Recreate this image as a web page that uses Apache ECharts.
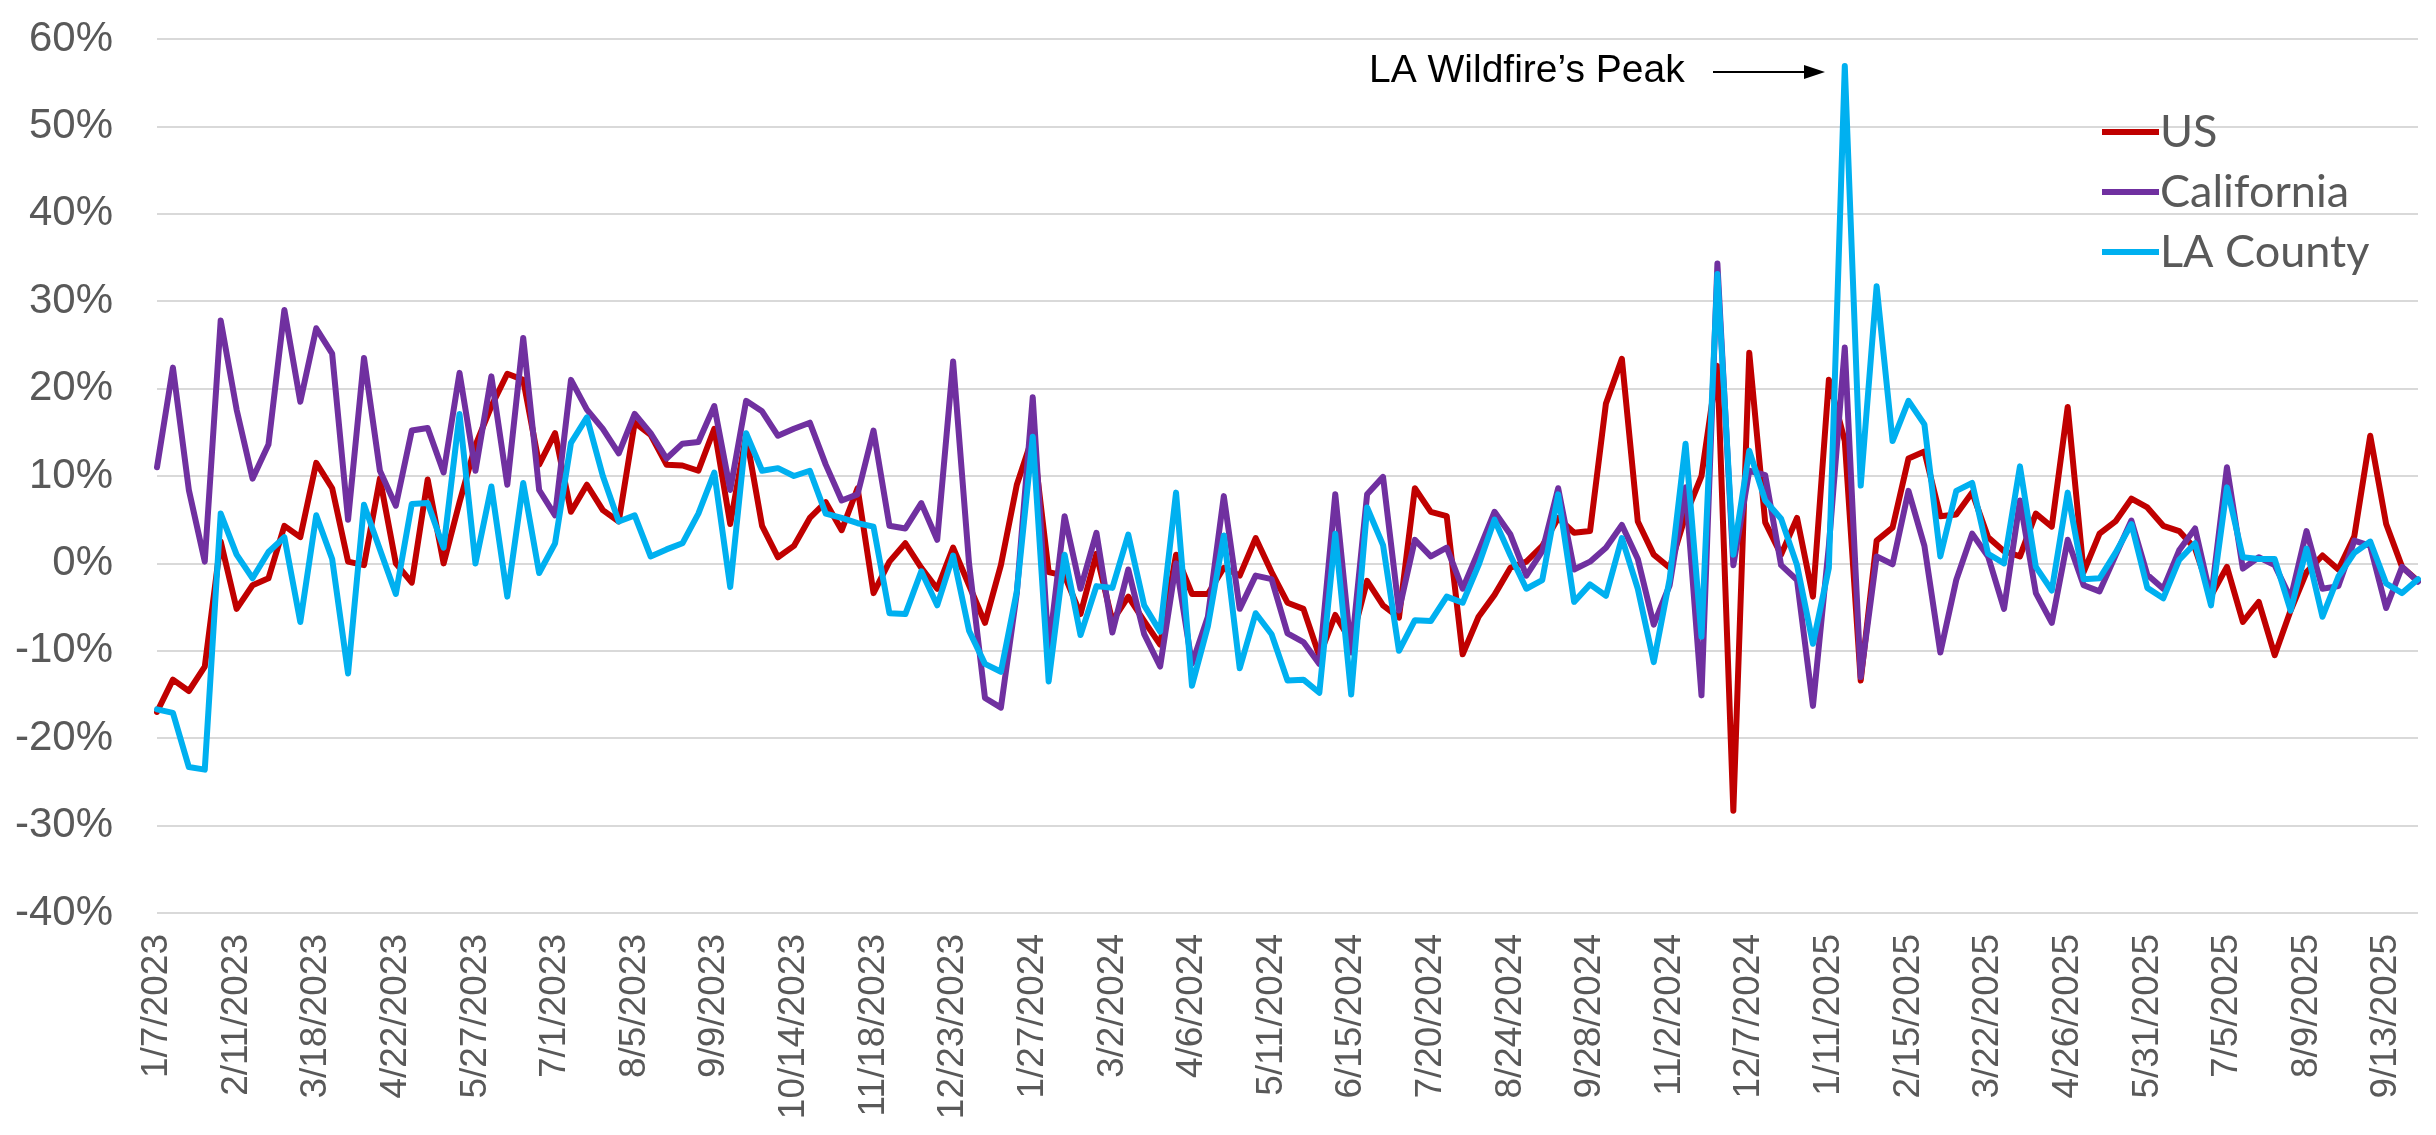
<!DOCTYPE html>
<html>
<head>
<meta charset="utf-8">
<script src="https://cdn.jsdelivr.net/npm/echarts@6/dist/echarts.min.js"></script>
<style>
html,body{margin:0;padding:0;background:#fff;}
#chart{width:2436px;height:1135px;}
</style>
</head>
<body>
<div id="chart"></div>
<script>
// Weekly categories (week ending dates)
const categories = [
"1/7/2023","1/14/2023","1/21/2023","1/28/2023","2/4/2023","2/11/2023","2/18/2023","2/25/2023","3/4/2023","3/11/2023",
"3/18/2023","3/25/2023","4/1/2023","4/8/2023","4/15/2023","4/22/2023","4/29/2023","5/6/2023","5/13/2023","5/20/2023",
"5/27/2023","6/3/2023","6/10/2023","6/17/2023","6/24/2023","7/1/2023","7/8/2023","7/15/2023","7/22/2023","7/29/2023",
"8/5/2023","8/12/2023","8/19/2023","8/26/2023","9/2/2023","9/9/2023","9/16/2023","9/23/2023","9/30/2023","10/7/2023",
"10/14/2023","10/21/2023","10/28/2023","11/4/2023","11/11/2023","11/18/2023","11/25/2023","12/2/2023","12/9/2023","12/16/2023",
"12/23/2023","12/30/2023",
"1/6/2024","1/13/2024","1/20/2024","1/27/2024","2/3/2024","2/10/2024","2/17/2024","2/24/2024","3/2/2024","3/9/2024",
"3/16/2024","3/23/2024","3/30/2024","4/6/2024","4/13/2024","4/20/2024","4/27/2024","5/4/2024","5/11/2024","5/18/2024",
"5/25/2024","6/1/2024","6/8/2024","6/15/2024","6/22/2024","6/29/2024","7/6/2024","7/13/2024","7/20/2024","7/27/2024",
"8/3/2024","8/10/2024","8/17/2024","8/24/2024","8/31/2024","9/7/2024","9/14/2024","9/21/2024","9/28/2024","10/5/2024",
"10/12/2024","10/19/2024","10/26/2024","11/2/2024","11/9/2024","11/16/2024","11/23/2024","11/30/2024","12/7/2024","12/14/2024",
"12/21/2024","12/28/2024",
"1/4/2025","1/11/2025","1/18/2025","1/25/2025","2/1/2025","2/8/2025","2/15/2025","2/22/2025","3/1/2025","3/8/2025",
"3/15/2025","3/22/2025","3/29/2025","4/5/2025","4/12/2025","4/19/2025","4/26/2025","5/3/2025","5/10/2025","5/17/2025",
"5/24/2025","5/31/2025","6/7/2025","6/14/2025","6/21/2025","6/28/2025","7/5/2025","7/12/2025","7/19/2025","7/26/2025",
"8/2/2025","8/9/2025","8/16/2025","8/23/2025","8/30/2025","9/6/2025","9/13/2025","9/20/2025","9/27/2025"
];

// Year-over-year change, percent
const usValues = [
-17,-13.3,-14.6,-11.8,2.5,-5.2,-2.5,-1.7,4.3,3.0,
11.5,8.6,0.2,-0.2,9.7,0,-2.2,9.6,0,7,
13.5,18,21.7,21.0,11.3,14.9,5.9,9.0,6.1,4.8,
16.1,14.7,11.3,11.2,10.6,15.4,4.5,14.7,4.3,0.7,
2.0,5.2,7.0,3.8,8.6,-3.4,0.2,2.3,-0.5,-2.9,
1.8,-2.5,-6.8,-0.2,9.0,14.5,-1.0,-1.4,-5.8,1.1,
-6.6,-3.8,-6.6,-9.3,1.0,-3.5,-3.5,-0.5,-1.4,2.9,
-1.0,-4.5,-5.2,-10.6,-5.9,-9,-2.0,-4.8,-6.2,8.6,
5.9,5.4,-10.4,-6.1,-3.6,-0.5,0.2,2.0,5.2,3.5,
3.7,18.3,23.4,4.8,1.0,-0.5,5.5,10,22.6,-28.3,
24.1,4.7,1.0,5.2,-3.8,21.0,14,-13.4,2.6,4.1,
12.0,12.8,5.4,5.6,8.1,3.0,1.4,0.8,5.7,4.2,
17.9,-1.0,3.4,4.8,7.4,6.4,4.3,3.7,1.7,-3.7,
-0.4,-6.7,-4.4,-10.5,-5.4,-1.0,0.9,-0.7,3.1,14.6,
4.5,-0.4,-2
];

const caValues = [
11,22.4,8.4,0.2,27.8,17.6,9.7,13.6,29.0,18.5,
26.9,24.0,5.0,23.5,10.6,6.6,15.2,15.5,10.4,21.8,
10.6,21.4,9.0,25.8,8.4,5.5,21.0,17.6,15.4,12.6,
17.1,14.9,12.0,13.7,13.9,18.0,8.4,18.6,17.4,14.6,
15.4,16.1,11.3,7.2,7.9,15.2,4.3,4.0,6.9,2.7,
23.1,0,-15.4,-16.5,-3.4,19.0,-10.0,5.4,-2.9,3.5,
-7.9,-0.7,-8.1,-11.8,0,-11.5,-6.1,7.7,-5.2,-1.4,
-1.8,-8,-9.0,-11.5,7.9,-10.2,7.9,9.9,-5.4,2.7,
0.8,1.8,-2.9,1.4,5.9,3.3,-1.4,1.4,8.6,-0.7,
0.2,1.8,4.4,0.5,-7.0,-2.5,8.7,-15.1,34.3,-0.2,
10.6,10.1,-0.2,-1.9,-16.3,2,24.7,-13.0,0.8,-0.1,
8.3,2.0,-10.2,-1.9,3.4,0.8,-5.2,7.2,-3.4,-6.8,
2.7,-2.5,-3.2,0.9,4.9,-1.3,-2.9,1.5,4.0,-4.0,
11.0,-0.6,0.7,-0.2,-4.0,3.7,-2.9,-2.6,2.6,2.0,
-5.1,-0.4,-2.1
];

const laValues = [
-16.7,-17.1,-23.3,-23.6,5.7,1.0,-1.7,1.3,3.0,-6.7,
5.5,0.5,-12.6,6.7,1.6,-3.5,6.8,6.9,1.8,17.1,
0,8.8,-3.8,9.2,-1.1,2.3,13.8,16.7,10.0,4.8,
5.5,0.8,1.6,2.3,5.7,10.4,-2.7,14.9,10.6,10.9,
10.0,10.6,5.7,5.2,4.6,4.2,-5.7,-5.8,-0.9,-4.8,
0.9,-7.7,-11.5,-12.4,-3.2,14.5,-13.5,1.0,-8.2,-2.6,
-2.8,3.3,-4.8,-7.8,8.1,-14.0,-7.2,3.2,-12.0,-5.7,
-8.1,-13.4,-13.3,-14.8,3.4,-15.0,6.4,2.1,-10.0,-6.5,
-6.6,-3.8,-4.5,-0.2,5.0,0.9,-2.9,-1.9,7.9,-4.4,
-2.4,-3.7,2.9,-2.9,-11.3,-1.8,13.7,-8.4,33.1,1.0,
12.9,7.2,5.1,-0.2,-9.2,-0.5,56.9,8.9,31.7,14.0,
18.6,15.9,0.8,8.3,9.2,1.1,0,11.1,-0.4,-3.1,
8.1,-1.8,-1.7,1.2,4.5,-2.8,-4.0,0.4,2.3,-4.8,
8.7,0.7,0.5,0.5,-5.4,1.7,-6.1,-1.5,1.2,2.5,
-2.3,-3.4,-1.8
];

const seriesNames = ["US", "California", "LA County"];
const seriesColors = ["#C00000", "#7030A0", "#00B0F0"];
const yTicks = { min: -40, max: 60, step: 10 };
const annotationText = "LA Wildfire\u2019s Peak";

const SANS = "'Liberation Sans',Arial,sans-serif";

const chart = echarts.init(document.getElementById('chart'), null, {renderer: 'canvas'});
const allValues = [usValues, caValues, laValues];

chart.setOption({
  animation: false,
  backgroundColor: '#ffffff',
  grid: { left: 157, right: 18, top: 39, bottom: 1135 - 913, containLabel: false, outerBoundsMode: 'none' },
  legend: {
    orient: 'vertical',
    left: 2097,
    top: 102,
    icon: 'rect',
    itemWidth: 57,
    itemHeight: 6,
    itemGap: 10,
    itemStyle: { borderWidth: 0 },
    textStyle: { fontFamily: "Lato,'Open Sans',sans-serif", fontSize: 45, color: '#595959', lineHeight: 50, padding: [0,0,0,-4] },
    data: seriesNames
  },
  xAxis: {
    type: 'category',
    data: categories,
    boundaryGap: false,
    axisLine: { show: false },
    axisTick: { show: false },
    splitLine: { show: false },
    axisLabel: {
      interval: 4,
      rotate: 90,
      margin: 21,
      fontFamily: SANS,
      fontSize: 37,
      color: '#595959',
      padding: [28, 0, 0, 0]
    }
  },
  yAxis: {
    type: 'value',
    min: yTicks.min,
    max: yTicks.max,
    interval: yTicks.step,
    axisLine: { show: false },
    axisTick: { show: false },
    splitLine: { lineStyle: { color: '#D9D9D9', width: 2 } },
    axisLabel: {
      formatter: '{value}%',
      margin: 44,
      fontFamily: SANS,
      fontSize: 42,
      color: '#595959'
    }
  },
  series: seriesNames.map((name, k) => ({
    name: name,
    type: 'line',
    data: allValues[k],
    symbol: 'none',
    showSymbol: false,
    lineStyle: { color: seriesColors[k], width: 6, join: 'round', cap: 'round' },
    itemStyle: { color: seriesColors[k] },
    z: 2 + k
  })),
  graphic: [
    {
      type: 'text',
      left: 1369,
      top: 52,
      style: { text: annotationText, fontFamily: SANS, fontSize: 39, fill: '#000000' }
    },
    {
      type: 'line',
      shape: { x1: 1713, y1: 72, x2: 1808, y2: 72 },
      style: { stroke: '#000000', lineWidth: 2 }
    },
    {
      type: 'polygon',
      shape: { points: [[1825, 72], [1804, 65], [1804, 79]] },
      style: { fill: '#000000' }
    }
  ]
});
</script>
</body>
</html>
